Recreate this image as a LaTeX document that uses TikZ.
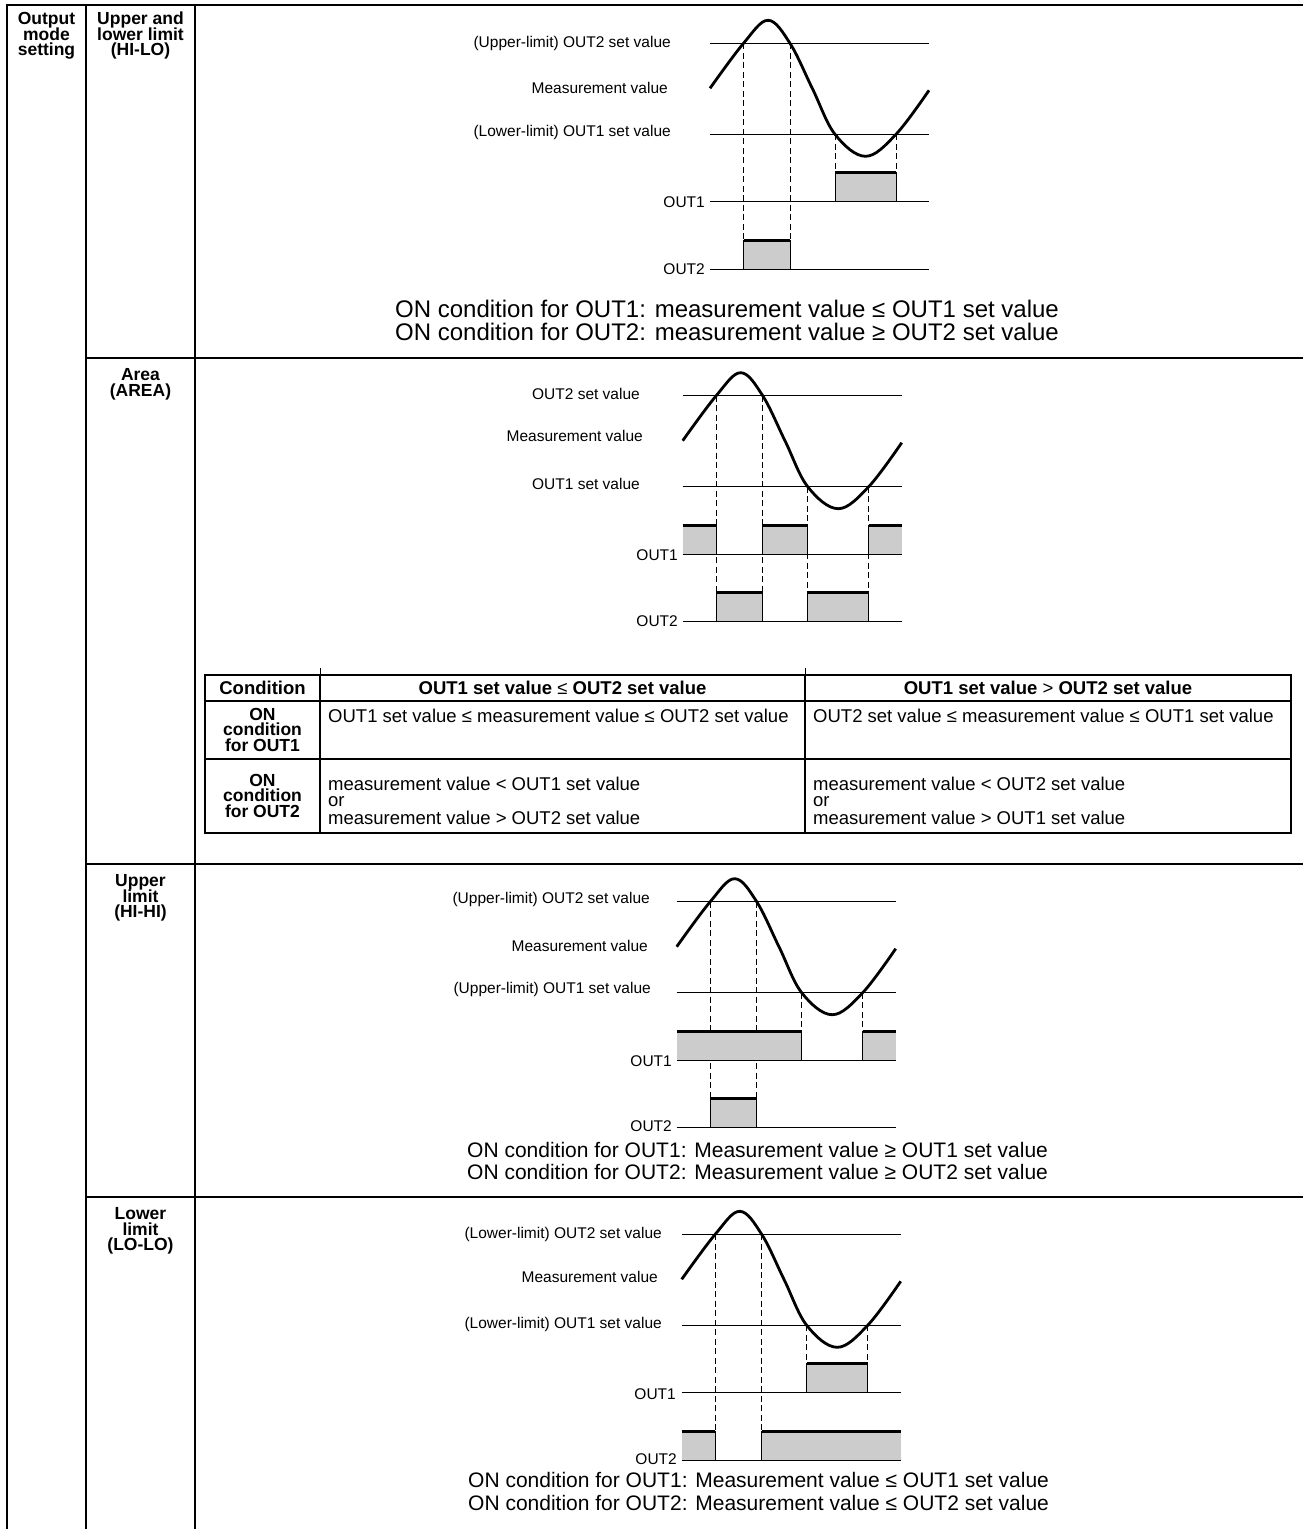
\documentclass[tikz,border=0pt]{standalone}
\usepackage{fontspec}
\setmainfont{Liberation Sans}
\newcommand\fsz[1]{\fontsize{#1}{#1}\selectfont}
\def\pA{33.5}\def\pB{80}\def\pC{125}\def\pD{186}\def\pW{219}
\def\pL{91}\def\pO{158.5}\def\pT{226}\def\pH{29}
\begin{document}
\begin{tikzpicture}[x=1pt,y=-1pt,
 frame/.style={line width=2.2pt},
 setln/.style={line width=1.1pt},
 wave/.style={line width=2.8pt, line join=round},
 guide/.style={line width=0.9pt, dash pattern=on 6pt off 3.5pt},
 pfill/.style={fill=black!20},
 pside/.style={line width=0.9pt},
 ptop/.style={line width=3pt},
 lbl/.style={font=\fsz{15.5}, inner sep=0pt, anchor=base east},
 onc/.style={font=\fsz{22}, inner sep=0pt, anchor=base west},
 hd/.style={font=\fsz{17.5}\bfseries, inner sep=0pt, anchor=base},
 tt/.style={font=\fsz{18.5}, inner sep=0pt, anchor=base west},
 tbh/.style={font=\fsz{18.5}\bfseries, inner sep=0pt, anchor=base},
 tbc/.style={font=\fsz{17.5}\bfseries, inner sep=0pt, anchor=base},
]
\newcommand\chartlines{\draw[setln] (0,0) -- (\pW,0) (0,\pL) -- (\pW,\pL) (0,\pO) -- (\pW,\pO) (0,\pT) -- (\pW,\pT);}
\newcommand\wavecurve{\draw[wave] plot[smooth,tension=0.6] coordinates {(0,45) (\pA,0) (58,-23) (\pB,0) (102.5,45.5) (\pC,\pL) (155.5,113) (\pD,\pL) (\pW,47)};}
\newcommand\pbox[3]{\fill[pfill] (#1,#3) rectangle (#2,#3-\pH); \draw[ptop] (#1,#3-\pH) -- (#2,#3-\pH);}
\newcommand\pside[2]{\draw[pside] (#1,#2) -- (#1,#2-\pH);}

\fill[white] (0,0) rectangle (1303,1529);
\useasboundingbox (0,0) rectangle (1303,1529);

% ---------- frame ----------
\draw[frame] (6,5) -- (1303,5);
\draw[frame] (7,4) -- (7,1529);
\draw[frame] (86,4) -- (86,1529);
\draw[frame] (195,4) -- (195,1529);
\draw[frame] (86,358) -- (1303,358);
\draw[frame] (86,864) -- (1303,864);
\draw[frame] (86,1197) -- (1303,1197);

% ---------- column headers ----------
\node[hd] (h1a) at (46.5,24.5) {Output};
\node[hd] (h1b) at (46.5,40) {mode};
\node[hd] (h1c) at (46.5,55.5) {setting};
\node[hd] (h2a) at (140.5,24.5) {Upper and};
\node[hd] (h2b) at (140.5,40) {lower limit};
\node[hd] (h2c) at (140.5,55.5) {(HI-LO)};
\node[hd] (h3a) at (140.5,380.5) {Area};
\node[hd] (h3b) at (140.5,396) {(AREA)};
\node[hd] (h4a) at (140.5,886.5) {Upper};
\node[hd] (h4b) at (140.5,902) {limit};
\node[hd] (h4c) at (140.5,917.5) {(HI-HI)};
\node[hd] (h5a) at (140.5,1219.5) {Lower};
\node[hd] (h5b) at (140.5,1235) {limit};
\node[hd] (h5c) at (140.5,1250.5) {(LO-LO)};

% ---------- panel 1 : HI-LO ----------
\begin{scope}[shift={(710,43.3)}]
 \draw[guide] (\pA,0) -- (\pA,\pT-\pH) (\pB,0) -- (\pB,\pT-\pH);
 \draw[guide] (\pC,\pL) -- (\pC,\pO-\pH) (\pD,\pL) -- (\pD,\pO-\pH);
 \pbox{\pC}{\pD}{\pO}\pside{\pC}{\pO}\pside{\pD}{\pO}
 \pbox{\pA}{\pB}{\pT}\pside{\pA}{\pT}\pside{\pB}{\pT}
 \chartlines
 \wavecurve
\end{scope}
\node[lbl] (l1a) at (671,47.5) {(Upper-limit) OUT2 set value};
\node[lbl] (l1b) at (668,93.5) {Measurement value};
\node[lbl] (l1c) at (671,136.5) {(Lower-limit) OUT1 set value};
\node[lbl] (l1d) at (705,207) {OUT1};
\node[lbl] (l1e) at (705,274.5) {OUT2};
\node[onc,font=\fsz{24}] (c1a) at (395,317.6) {ON condition for OUT1: measurement value ≤ OUT1 set value};
\node[onc,font=\fsz{24}] (c1b) at (395,340.6) {ON condition for OUT2: measurement value ≥ OUT2 set value};

% ---------- panel 2 : AREA ----------
\begin{scope}[shift={(682.7,395.7)}]
 \draw[guide] (\pA,0) -- (\pA,\pT-\pH) (\pB,0) -- (\pB,\pT-\pH);
 \draw[guide] (\pC,\pL) -- (\pC,\pT-\pH) (\pD,\pL) -- (\pD,\pT-\pH);
 \pbox{0}{\pA}{\pO}\pside{\pA}{\pO}
 \pbox{\pB}{\pC}{\pO}\pside{\pB}{\pO}\pside{\pC}{\pO}
 \pbox{\pD}{\pW}{\pO}\pside{\pD}{\pO}
 \pbox{\pA}{\pB}{\pT}\pside{\pA}{\pT}\pside{\pB}{\pT}
 \pbox{\pC}{\pD}{\pT}\pside{\pC}{\pT}\pside{\pD}{\pT}
 \chartlines
 \wavecurve
\end{scope}
\node[lbl] (l2a) at (640,399.5) {OUT2 set value};
\node[lbl] (l2b) at (643,441) {Measurement value};
\node[lbl] (l2c) at (640,489.5) {OUT1 set value};
\node[lbl] (l2d) at (678,560) {OUT1};
\node[lbl] (l2e) at (678,626) {OUT2};

% ---------- table ----------
\draw[line width=1.2pt] (205,701) -- (1291,701) (205,759) -- (1291,759);
\draw[line width=1.3pt] (805,675) -- (805,833);
\draw[line width=2.2pt] (320,675) -- (320,833);
\draw[line width=2.6pt] (205,675) rectangle (1291,833);
\draw[line width=0.8pt] (320,668) -- (320,675) (805,668) -- (805,675);
\node[tbh] (t11) at (262.5,694.6) {Condition};
\node[tbh] (t12) at (562.5,694.6) {OUT1 set value {\mdseries ≤} OUT2 set value};
\node[tbh] (t13) at (1048,694.6) {OUT1 set value {\mdseries >} OUT2 set value};
\node[tbc] (t21a) at (262.5,720) {ON};
\node[tbc] (t21b) at (262.5,735.5) {condition};
\node[tbc] (t21c) at (262.5,751) {for OUT1};
\node[tt] (t22) at (328,722) {OUT1 set value ≤ measurement value ≤ OUT2 set value};
\node[tt] (t23) at (813,722) {OUT2 set value ≤ measurement value ≤ OUT1 set value};
\node[tbc] (t31a) at (262.5,786) {ON};
\node[tbc] (t31b) at (262.5,801.5) {condition};
\node[tbc] (t31c) at (262.5,817) {for OUT2};
\node[tt] (t32a) at (328,790) {measurement value < OUT1 set value};
\node[tt] (t32b) at (328,806) {or};
\node[tt] (t32c) at (328,824) {measurement value > OUT2 set value};
\node[tt] (t33a) at (813,790) {measurement value < OUT2 set value};
\node[tt] (t33b) at (813,806) {or};
\node[tt] (t33c) at (813,824) {measurement value > OUT1 set value};

% ---------- panel 3 : HI-HI ----------
\begin{scope}[shift={(676.7,901.7)}]
 \draw[guide] (\pA,0) -- (\pA,\pT-\pH) (\pB,0) -- (\pB,\pT-\pH);
 \draw[guide] (\pC,\pL) -- (\pC,\pO-\pH) (\pD,\pL) -- (\pD,\pO-\pH);
 \pbox{0}{\pC}{\pO}\pside{\pC}{\pO}
 \pbox{\pD}{\pW}{\pO}\pside{\pD}{\pO}
 \pbox{\pA}{\pB}{\pT}\pside{\pA}{\pT}\pside{\pB}{\pT}
 \chartlines
 \wavecurve
\end{scope}
\node[lbl] (l3a) at (650,903.5) {(Upper-limit) OUT2 set value};
\node[lbl] (l3b) at (648,951.5) {Measurement value};
\node[lbl] (l3c) at (651,993.5) {(Upper-limit) OUT1 set value};
\node[lbl] (l3d) at (672,1066) {OUT1};
\node[lbl] (l3e) at (672,1131) {OUT2};
\node[onc,font=\fsz{21}] (c3a) at (467,1157.5) {ON condition for OUT1: Measurement value ≥ OUT1 set value};
\node[onc,font=\fsz{21}] (c3b) at (467,1179.5) {ON condition for OUT2: Measurement value ≥ OUT2 set value};

% ---------- panel 4 : LO-LO ----------
\begin{scope}[shift={(681.7,1234.3)}]
 \draw[guide] (\pA,0) -- (\pA,\pT-\pH) (\pB,0) -- (\pB,\pT-\pH);
 \draw[guide] (\pC,\pL) -- (\pC,\pO-\pH) (\pD,\pL) -- (\pD,\pO-\pH);
 \pbox{\pC}{\pD}{\pO}\pside{\pC}{\pO}\pside{\pD}{\pO}
 \pbox{0}{\pA}{\pT}\pside{\pA}{\pT}
 \pbox{\pB}{\pW}{\pT}\pside{\pB}{\pT}
 \chartlines
 \wavecurve
\end{scope}
\node[lbl] (l4a) at (662,1238.5) {(Lower-limit) OUT2 set value};
\node[lbl] (l4b) at (658,1282.5) {Measurement value};
\node[lbl] (l4c) at (662,1328.5) {(Lower-limit) OUT1 set value};
\node[lbl] (l4d) at (676,1399) {OUT1};
\node[lbl] (l4e) at (677,1464) {OUT2};
\node[onc,font=\fsz{21}] (c4a) at (468,1487.5) {ON condition for OUT1: Measurement value ≤ OUT1 set value};
\node[onc,font=\fsz{21}] (c4b) at (468,1510.5) {ON condition for OUT2: Measurement value ≤ OUT2 set value};
\end{tikzpicture}
\end{document}
